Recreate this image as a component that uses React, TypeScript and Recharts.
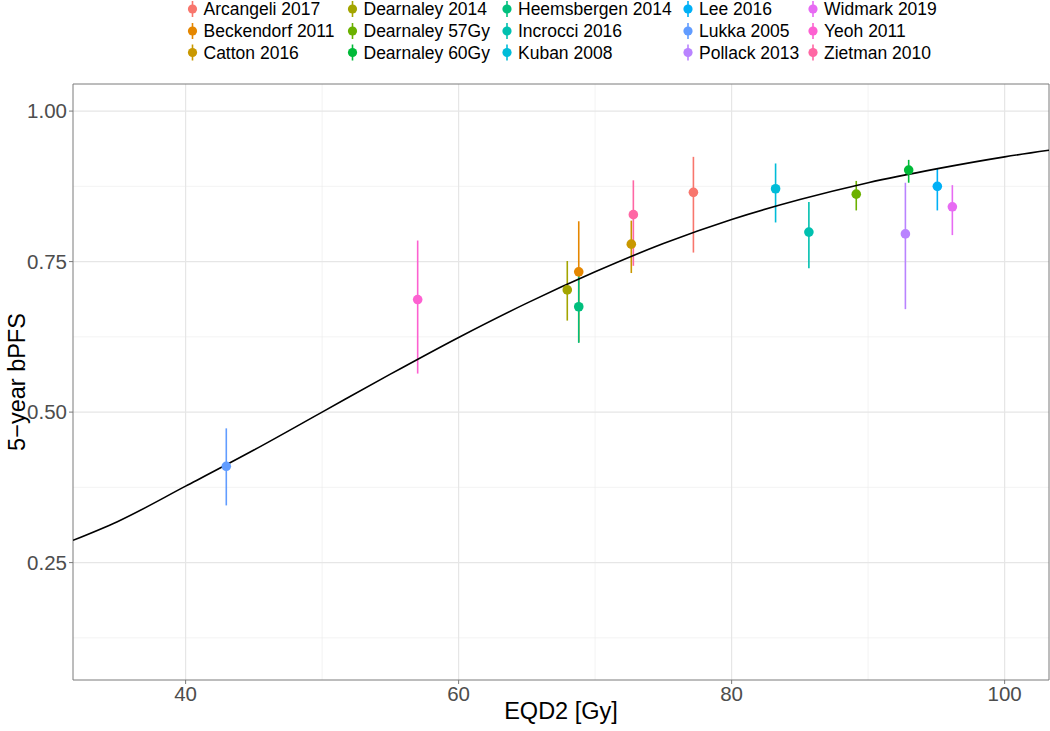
import {
  ComposedChart,
  Scatter,
  Line,
  XAxis,
  YAxis,
  CartesianGrid,
  ErrorBar,
  ReferenceArea,
  Legend,
  Label,
} from 'recharts';

// studies, in legend order (ggplot hue palette)
const STUDIES = [
  'Arcangeli 2017',
  'Beckendorf 2011',
  'Catton 2016',
  'Dearnaley 2014',
  'Dearnaley 57Gy',
  'Dearnaley 60Gy',
  'Heemsbergen 2014',
  'Incrocci 2016',
  'Kuban 2008',
  'Lee 2016',
  'Lukka 2005',
  'Pollack 2013',
  'Widmark 2019',
  'Yeoh 2011',
  'Zietman 2010',
];

const COLORS = [
  '#F8766D', '#E58700', '#C99800', '#A3A500', '#6BB100',
  '#00BA38', '#00BF7D', '#00C0AF', '#00BCD8', '#00B0F6',
  '#619CFF', '#B983FF', '#E76BF3', '#FD61D1', '#FF67A4',
];

const EQD2 = [77.2, 68.8, 72.65, 67.96, 89.13, 92.97, 68.8, 85.66, 83.22, 95.07, 42.98, 92.73, 96.17, 57.0, 72.8];
const BPFS = [0.865, 0.733, 0.779, 0.703, 0.862, 0.902, 0.675, 0.799, 0.871, 0.875, 0.41, 0.796, 0.841, 0.687, 0.828];
const LOWER = [0.765, 0.616, 0.731, 0.652, 0.835, 0.881, 0.615, 0.739, 0.815, 0.835, 0.345, 0.671, 0.794, 0.564, 0.743];
const UPPER = [0.924, 0.817, 0.818, 0.751, 0.884, 0.919, 0.735, 0.849, 0.913, 0.904, 0.473, 0.881, 0.877, 0.785, 0.885];

// fitted curve
const FIT_X = [31.75, 35, 40, 45, 50, 55, 60, 65, 70, 75, 80, 85, 90, 95, 100, 103.25];
const FIT_Y = [0.287, 0.318, 0.377, 0.437, 0.5, 0.563, 0.624, 0.681, 0.733, 0.78, 0.82, 0.853, 0.881, 0.904, 0.924, 0.935];

const X_TICKS = [40, 60, 80, 100];
const X_MINOR = [50, 70, 90];
const Y_TICKS = [0.25, 0.5, 0.75, 1.0];
const Y_MINOR = [0.125, 0.375, 0.625, 0.875];

const X_DOMAIN: [number, number] = [31.75, 103.25];
const Y_DOMAIN: [number, number] = [0.055, 1.045];

const LEGEND_COL_X = [192.5, 352.5, 507, 688, 813];
const LEGEND_ROW_Y = [9, 31, 52.5];

const FONT = '"Liberation Sans", Arial, Helvetica, sans-serif';

const fitData = FIT_X.map((x, i) => ({ x, y: FIT_Y[i] }));

const studyData = STUDIES.map((name, i) => [
  {
    name,
    x: EQD2[i],
    y: BPFS[i],
    err: [BPFS[i] - LOWER[i], UPPER[i] - BPFS[i]],
  },
]);

const renderLegend = () => (
  <svg width={1050} height={84} style={{ display: 'block' }}>
    {STUDIES.map((name, i) => {
      const kx = LEGEND_COL_X[Math.floor(i / 3)];
      const cy = LEGEND_ROW_Y[i % 3];
      return (
        <g key={name}>
          <line x1={kx} x2={kx} y1={cy - 8} y2={cy + 8} stroke={COLORS[i]} strokeWidth={1.6} />
          <circle cx={kx} cy={cy} r={4.6} fill={COLORS[i]} />
          <text x={kx + 11} y={cy + 6.3} fontSize={17.5} fontFamily={FONT} fill="#000">
            {name}
          </text>
        </g>
      );
    })}
  </svg>
);

export default function App() {
  return (
    <div style={{ position: 'absolute', left: 0, top: 0, width: 1050, height: 731, background: '#fff' }}>
      <ComposedChart width={1050} height={731} margin={{ top: 0, right: 1, bottom: 0, left: 0 }}>
        <Legend
          verticalAlign="top"
          content={renderLegend}
          wrapperStyle={{ top: 0, left: 0, width: 1050, height: 84 }}
        />
        <CartesianGrid
          horizontalValues={Y_MINOR}
          verticalValues={X_MINOR}
          stroke="#EBEBEB"
          strokeWidth={0.6}
        />
        <CartesianGrid
          horizontalValues={Y_TICKS}
          verticalValues={X_TICKS}
          stroke="#E6E6E6"
          strokeWidth={1.2}
        />
        <XAxis
          type="number"
          dataKey="x"
          domain={X_DOMAIN}
          allowDataOverflow
          ticks={X_TICKS}
          height={51}
          tickSize={4}
          axisLine={false}
          tickLine={{ stroke: '#7a7a7a' }}
          tick={{ fontSize: 20.5, fill: '#4D4D4D', fontFamily: FONT }}
        >
          <Label
            content={(props: any) => {
              const vb = props.viewBox;
              return (
                <text
                  x={vb.x + vb.width / 2}
                  y={vb.y + 39}
                  textAnchor="middle"
                  fontSize={23.5}
                  fontFamily={FONT}
                  fill="#000"
                >
                  EQD2 [Gy]
                </text>
              );
            }}
          />
        </XAxis>
        <YAxis
          type="number"
          domain={Y_DOMAIN}
          allowDataOverflow
          ticks={Y_TICKS}
          width={73}
          tickSize={4}
          axisLine={false}
          tickLine={{ stroke: '#7a7a7a' }}
          tickFormatter={(v: number) => v.toFixed(2)}
          tick={{ fontSize: 20.5, fill: '#4D4D4D', fontFamily: FONT }}
        >
          <Label
            content={(props: any) => {
              const vb = props.viewBox;
              const cy = vb.y + vb.height / 2;
              return (
                <text
                  x={0}
                  y={0}
                  transform={`translate(25,${cy}) rotate(-90)`}
                  textAnchor="middle"
                  fontSize={23.5}
                  fontFamily={FONT}
                  fill="#000"
                >
                  5−year bPFS
                </text>
              );
            }}
          />
        </YAxis>

        {studyData.map((d, i) => (
          <Scatter
            key={STUDIES[i]}
            name={STUDIES[i]}
            data={d}
            dataKey="y"
            fill={COLORS[i]}
            isAnimationActive={false}
            shape={(p: any) => <circle cx={p.cx} cy={p.cy} r={4.8} fill={COLORS[i]} />}
          >
            <ErrorBar
              dataKey="err"
              direction="y"
              width={0}
              stroke={COLORS[i]}
              strokeWidth={1.6}
              isAnimationActive={false}
            />
          </Scatter>
        ))}

        <Line
          data={fitData}
          dataKey="y"
          type="monotone"
          stroke="#000"
          strokeWidth={1.6}
          dot={false}
          activeDot={false}
          legendType="none"
          isAnimationActive={false}
        />

        <ReferenceArea
          x1={X_DOMAIN[0]}
          x2={X_DOMAIN[1]}
          y1={Y_DOMAIN[0]}
          y2={Y_DOMAIN[1]}
          fill="none"
          stroke="#7a7a7a"
          strokeWidth={1}
        />
      </ComposedChart>
    </div>
  );
}
